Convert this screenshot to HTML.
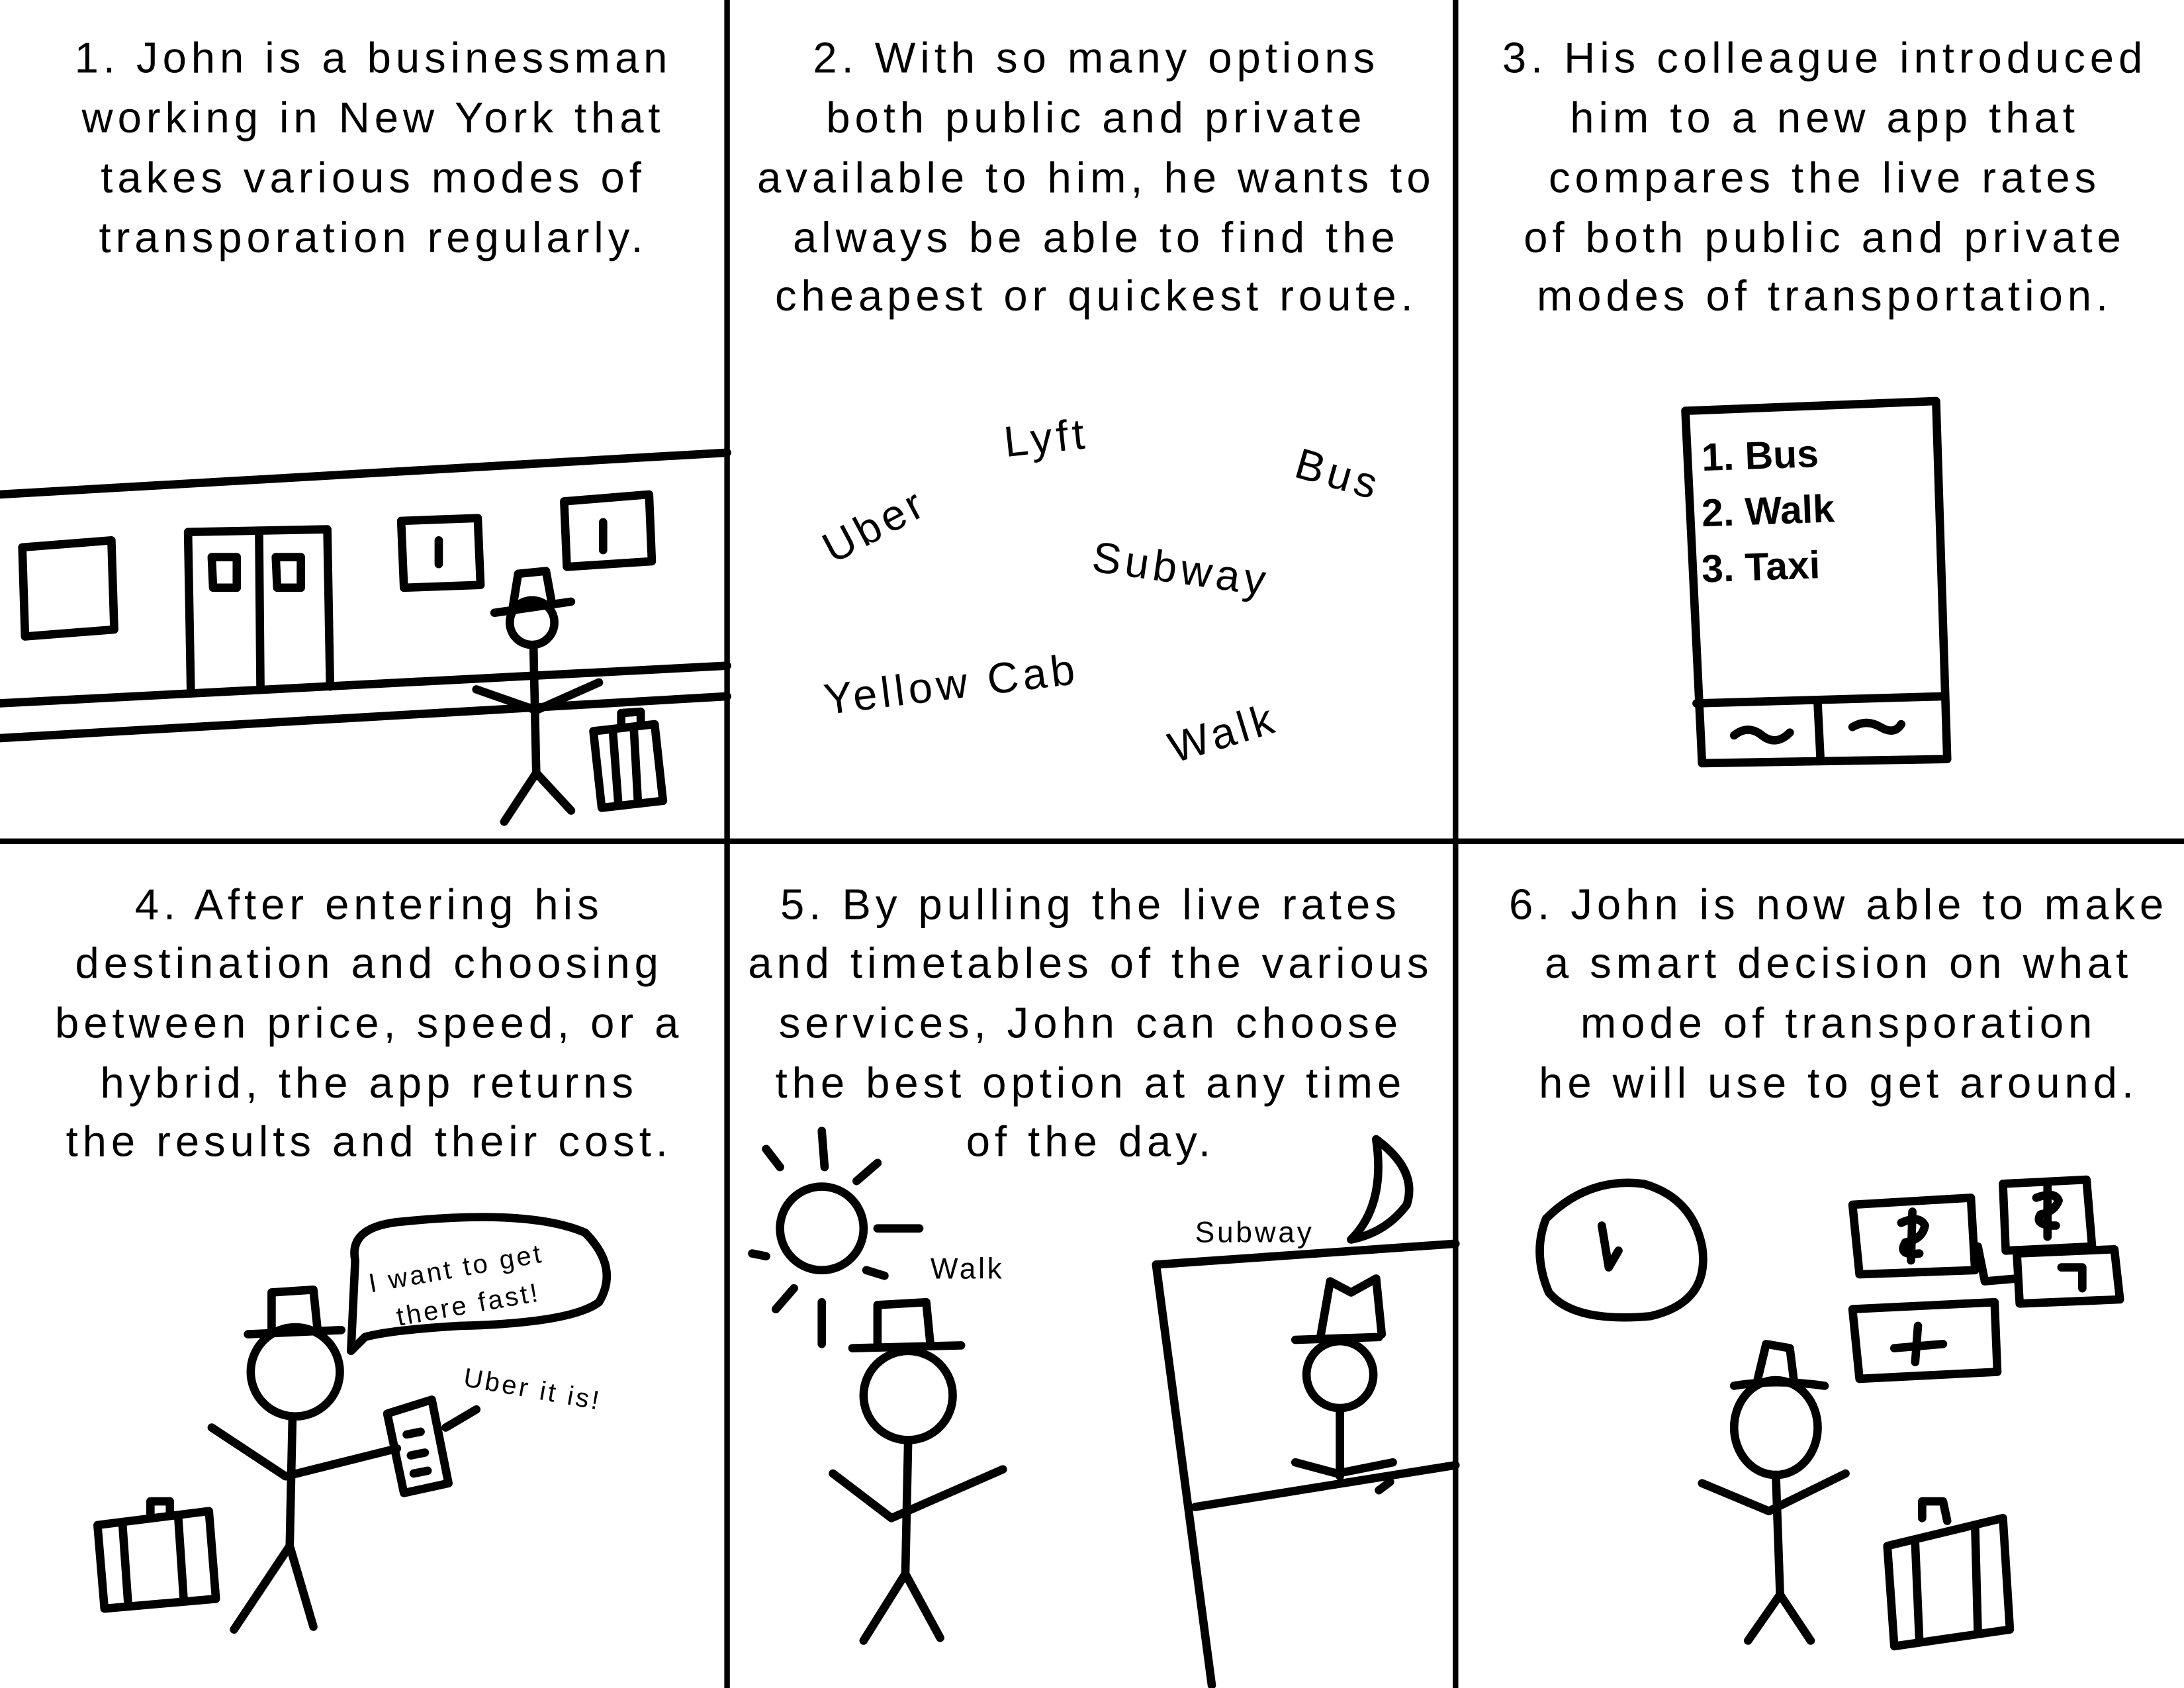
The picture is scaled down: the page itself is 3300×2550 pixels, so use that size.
<!DOCTYPE html>
<html><head><style>
html,body{margin:0;padding:0;background:#fff;}
svg{display:block}
text{font-family:"Liberation Sans",sans-serif;fill:#000}
.c{font-size:31px;letter-spacing:3.3px;text-anchor:middle}
.w{font-size:31px;letter-spacing:3px}
</style></head><body>
<svg width="3300" height="2550" viewBox="0 0 1568 1212" preserveAspectRatio="none" xmlns="http://www.w3.org/2000/svg">
<rect width="1568" height="1212" fill="#fff"/>
<g stroke="#000" stroke-width="4" fill="none">
<line x1="522" y1="0" x2="522" y2="1212"/>
<line x1="1045" y1="0" x2="1045" y2="1212"/>
<line x1="0" y1="604" x2="1568" y2="604"/>
</g>
<g>
<text class="c" x="268" y="52">1. John is a businessman</text>
<text class="c" x="268" y="95">working in New York that</text>
<text class="c" x="268" y="138">takes various modes of</text>
<text class="c" x="268" y="181">transporation regularly.</text>
<text class="c" x="787" y="52">2. With so many options</text>
<text class="c" x="787" y="95">both public and private</text>
<text class="c" x="787" y="138">available to him, he wants to</text>
<text class="c" x="787" y="181">always be able to find the</text>
<text class="c" x="787" y="223">cheapest or quickest route.</text>
<text class="c" x="1310" y="52">3. His colleague introduced</text>
<text class="c" x="1310" y="95">him to a new app that</text>
<text class="c" x="1310" y="138">compares the live rates</text>
<text class="c" x="1310" y="181">of both public and private</text>
<text class="c" x="1310" y="223">modes of transportation.</text>
<text class="c" x="265" y="660">4. After entering his</text>
<text class="c" x="265" y="702">destination and choosing</text>
<text class="c" x="265" y="745">between price, speed, or a</text>
<text class="c" x="265" y="788">hybrid, the app returns</text>
<text class="c" x="265" y="830">the results and their cost.</text>
<text class="c" x="783" y="660">5. By pulling the live rates</text>
<text class="c" x="783" y="702">and timetables of the various</text>
<text class="c" x="783" y="745">services, John can choose</text>
<text class="c" x="783" y="788">the best option at any time</text>
<text class="c" x="783" y="830">of the day.</text>
<text class="c" x="1320" y="660">6. John is now able to make</text>
<text class="c" x="1320" y="702">a smart decision on what</text>
<text class="c" x="1320" y="745">mode of transporation</text>
<text class="c" x="1320" y="788">he will use to get around.</text>
</g>
<text class="w" transform="translate(598,405) rotate(-28)">Uber</text>
<text class="w" transform="translate(722,328) rotate(-6)">Lyft</text>
<text class="w" transform="translate(928,342) rotate(16)">Bus</text>
<text class="w" transform="translate(783,410) rotate(8)">Subway</text>
<text class="w" transform="translate(593,513) rotate(-7)">Yellow Cab</text>
<text class="w" transform="translate(843,548) rotate(-17)">Walk</text>
<g stroke="#000" stroke-width="6" fill="none" stroke-linecap="round" stroke-linejoin="round">
<path d="M0 355 L522 325"/>
<path d="M0 505 L522 478"/>
<path d="M0 530 L522 500"/>
<path d="M16 393 L80 388 L82 452 L18 457 Z"/>
<path d="M135 382 L235 380 L237 493 M135 382 L137 497 M186 381 L187 495"/>
<path d="M152 400 L170 400 L170 422 L153 422 Z M198 400 L216 400 L216 422 L199 422 Z"/>
<path d="M288 374 L343 372 L345 420 L290 422 Z M315 388 L315 405"/>
<path d="M405 360 L466 355 L468 403 L407 407 Z M433 375 L433 395"/>
<circle cx="382" cy="447" r="16"/>
<path d="M355 440 L410 432 M368 437 L372 412 L392 410 L396 432"/>
<path d="M383 463 L385 555 M385 555 L362 590 M385 555 L410 582 M342 495 L385 510 L430 490"/>
<path d="M426 525 L470 520 L476 575 L432 580 Z M440 525 L444 578 M455 522 L458 576 M446 522 L446 512 L460 511 L460 521"/>
<path d="M1210 295 L1390 288 L1398 545 L1222 548 Z"/>
<path d="M1218 505 L1395 500 M1305 505 L1307 545"/>
<path d="M1245 528 Q1255 520 1265 528 T1285 526 M1330 522 Q1340 516 1350 522 T1365 520"/>
<circle cx="212" cy="985" r="32"/>
<path d="M178 958 L245 955 M195 955 L195 928 L225 926 L228 955"/>
<path d="M210 1017 L208 1110 M208 1110 L168 1170 M208 1110 L225 1168 M152 1025 L205 1060 L285 1040"/>
<path d="M278 1015 L310 1005 L322 1065 L290 1072 Z M292 1030 L302 1028 M295 1045 L305 1043 M297 1058 L307 1056"/>
<path d="M320 1025 L342 1012"/>
<path d="M70 1095 L150 1085 L155 1148 L75 1155 Z M88 1095 L92 1152 M128 1090 L132 1150 M108 1090 L108 1078 L122 1078 L122 1088"/>
<path d="M255 905 Q250 880 290 877 Q380 868 420 885 Q445 910 430 935 Q410 950 330 952 Q280 955 262 960 L252 970 Z"/>
<circle cx="590" cy="882" r="30"/>
<path d="M590 812 L592 838 M550 825 L560 838 M630 835 L615 848 M630 882 L660 882 M540 900 L550 902 M557 940 L570 925 M590 935 L590 965 M622 912 L635 916"/>
<circle cx="652" cy="1002" r="32"/>
<path d="M612 968 L690 966 M630 966 L630 937 L665 935 L668 966"/>
<path d="M652 1034 L650 1130 M650 1130 L620 1178 M650 1130 L675 1176 M598 1058 L640 1090 L720 1055"/>
<path d="M830 908 L1045 893 M830 908 L870 1210 M858 1082 L1045 1052"/>
<path d="M988 818 Q1018 840 1010 865 Q995 885 970 890 Q995 865 988 818 Z"/>
<circle cx="962" cy="987" r="24"/>
<path d="M930 962 L990 960 M948 960 L955 920 L970 928 L988 918 L992 958"/>
<path d="M962 1011 L962 1060 M930 1050 L960 1058 L1000 1050 M990 1070 L998 1064"/>
<path d="M1110 875 Q1140 845 1180 850 Q1215 860 1222 895 Q1228 935 1185 945 Q1130 950 1112 928 Q1100 900 1110 875 Z M1150 880 L1155 910 L1162 898"/>
<path d="M1330 865 L1415 860 L1418 912 L1335 915 Z M1365 878 Q1378 872 1382 880 Q1380 890 1368 892 Q1362 902 1378 900 M1373 870 L1372 905"/>
<path d="M1438 850 L1498 847 L1502 895 L1440 898 Z M1462 860 Q1475 855 1478 862 Q1475 870 1465 872 Q1460 880 1476 880 M1470 852 L1470 888"/>
<path d="M1420 895 L1425 920 L1448 918 M1448 900 L1518 897 L1522 933 L1450 936 Z M1480 910 L1495 910 L1495 925"/>
<path d="M1330 940 L1432 935 L1434 985 L1335 990 Z M1360 968 L1395 965 M1377 952 L1375 978"/>
<ellipse cx="1275" cy="1025" rx="30" ry="34"/>
<path d="M1245 995 Q1275 990 1310 995 M1262 990 L1268 965 L1285 968 L1288 992"/>
<path d="M1275 1059 L1278 1145 M1278 1145 L1255 1178 M1278 1145 L1300 1178 M1222 1065 L1270 1085 L1325 1058"/>
<path d="M1355 1110 L1438 1090 L1443 1170 L1360 1182 Z M1375 1108 L1378 1178 M1418 1095 L1420 1172 M1380 1090 L1380 1078 L1395 1078 L1398 1092"/>
</g>
<g style="font-family:'Liberation Sans',sans-serif;font-weight:bold" font-size="28">
<text x="1222" y="338" transform="rotate(-2 1222 338)">1. Bus</text>
<text x="1222" y="378" transform="rotate(-2 1222 378)">2. Walk</text>
<text x="1222" y="418" transform="rotate(-2 1222 418)">3. Taxi</text>
</g>
<text transform="translate(266,928) rotate(-10)" font-size="19" letter-spacing="1.8">I want to get</text>
<text transform="translate(286,952) rotate(-10)" font-size="19" letter-spacing="1.8">there fast!</text>
<text transform="translate(332,995) rotate(10)" font-size="19" letter-spacing="1.8">Uber it is!</text>
<text x="668" y="918" font-size="21" letter-spacing="1.8">Walk</text>
<text x="858" y="892" font-size="21" letter-spacing="1.8">Subway</text>
</svg>
</body></html>
